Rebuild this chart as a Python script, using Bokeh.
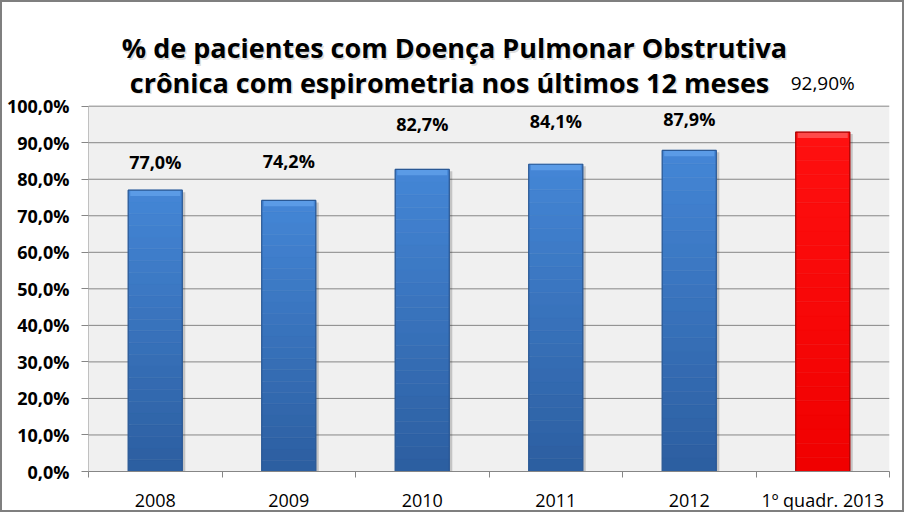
from bokeh.plotting import figure
from bokeh.models import Range1d, FixedTicker, Label, ColumnDataSource
from bokeh.embed import file_html
from bokeh.resources import INLINE

# ---------------- data ----------------
categories = ["2008", "2009", "2010", "2011", "2012", "1º quadr. 2013"]
values = [77.0, 74.2, 82.7, 84.1, 87.9, 92.9]
value_labels = ["77,0%", "74,2%", "82,7%", "84,1%", "87,9%", "92,90%"]
y_ticks = [0, 10, 20, 30, 40, 50, 60, 70, 80, 90, 100]
y_tick_labels = ["0,0%", "10,0%", "20,0%", "30,0%", "40,0%", "50,0%",
                 "60,0%", "70,0%", "80,0%", "90,0%", "100,0%"]
title_lines = ["% de pacientes com Doença Pulmonar Obstrutiva",
               "crônica com espirometria nos últimos 12 meses"]

# ---------------- style ----------------
W, H = 904, 512
B_LEFT, B_RIGHT, B_BOTTOM = 86, 17, 37
PLOT_TOP_PX = 105                     # canvas y of the 100% line
FRAME_W = W - B_LEFT - B_RIGHT
FRAME_H = H - B_BOTTOM
PLOT_H = FRAME_H - PLOT_TOP_PX
BAR_W = 0.405
FONT = "Open Sans"
GRID = "#868686"
label_lift_px = [28, 39, 45, 43, 31, 49]
label_bold = [True, True, True, True, True, False]
label_size = ["18px"] * 5 + ["19px"]
title_px = [(452, 46), (447, 81)]     # canvas centre x / baseline y
blue_top, blue_bottom, blue_edge = (68, 134, 214), (44, 94, 160), "#2a5894"
red_top, red_bottom, red_edge = (255, 16, 16), (240, 0, 0), "#a80000"
bar_palette = ["blue"] * 5 + ["red"]

n_cat = len(categories)
centers = [i + 0.5 for i in range(n_cat)]
px_y = 100.0 / PLOT_H          # data units per pixel (y)
px_x = n_cat / FRAME_W         # data units per pixel (x)
y_max = FRAME_H * px_y


def mix(c1, c2, t):
    return "#%02x%02x%02x" % tuple(int(round(a + (b - a) * t)) for a, b in zip(c1, c2))


p = figure(width=W, height=H, x_range=Range1d(0, n_cat), y_range=Range1d(0, y_max),
           output_backend="svg", toolbar_location=None,
           min_border_left=B_LEFT, min_border_right=B_RIGHT,
           min_border_top=0, min_border_bottom=B_BOTTOM)
p.styles = {"border": "2px solid #7f7f7f"}
p.background_fill_color = "white"
p.border_fill_color = "white"
p.outline_line_color = None
p.xgrid.visible = False
p.ygrid.visible = False

# plot area background and grid lines
p.quad(left=0, right=n_cat, bottom=0, top=100, fill_color="#f0f0f0", line_color=None)
p.segment(x0=[0] * len(y_ticks), x1=[n_cat] * len(y_ticks), y0=y_ticks, y1=y_ticks,
          line_color=GRID, line_width=1)
p.segment(x0=[0], x1=[0], y0=[0], y1=[100], line_color=GRID, line_width=1)

# shadows
sh = ColumnDataSource(dict(x=[c + 3 * px_x for c in centers],
                           top=[v - 2 * px_y for v in values]))
p.vbar(x="x", top="top", bottom=0, width=BAR_W, source=sh,
       fill_color="black", fill_alpha=0.18, line_color=None)

# gradient bars
N = 24
seg = dict(x=[], top=[], bottom=[], color=[])
for c, v, kind in zip(centers, values, bar_palette):
    ct, cb = (blue_top, blue_bottom) if kind == "blue" else (red_top, red_bottom)
    for k in range(N):
        seg["x"].append(c)
        seg["bottom"].append(v * k / N)
        seg["top"].append(v * (k + 1) / N)
        seg["color"].append(mix(cb, ct, (k + 0.5) / N))
p.vbar(x="x", top="top", bottom="bottom", width=BAR_W, source=ColumnDataSource(seg),
       fill_color="color", line_color="color", line_width=0.5)

# bevel top strip
bev = ColumnDataSource(dict(x=centers, top=values, bottom=[v - 6 * px_y for v in values],
                            color=["#5b9be6" if k == "blue" else "#ff4a4a" for k in bar_palette]))
p.vbar(x="x", top="top", bottom="bottom", width=BAR_W - 4 * px_x, source=bev,
       fill_color="color", line_color=None)

# outlines
ol = ColumnDataSource(dict(x=centers, top=values,
                           edge=[blue_edge if k == "blue" else red_edge for k in bar_palette]))
p.vbar(x="x", top="top", bottom=0, width=BAR_W, source=ol,
       fill_color=None, line_color="edge", line_width=1.2)

# data labels
for c, v, t, lift, bold, fs in zip(centers, values, value_labels, label_lift_px,
                                   label_bold, label_size):
    p.add_layout(Label(x=c, y=v, y_offset=lift, text=t, text_align="center",
                       text_baseline="middle", text_font=FONT, text_font_size=fs,
                       text_font_style="bold" if bold else "normal", text_color="black"))

# title with soft shadow
for (cx, cy), line in zip(title_px, title_lines):
    tx = (cx - B_LEFT) * px_x
    ty = (FRAME_H - cy) * px_y
    p.add_layout(Label(x=tx, y=ty, x_offset=1.5, y_offset=-1.5,
                       text=line, text_align="center", text_baseline="alphabetic",
                       text_font=FONT, text_font_size="27px", text_font_style="bold",
                       text_color="#b4b4b4", text_alpha=0.45))
    p.add_layout(Label(x=tx, y=ty,
                       text=line, text_align="center", text_baseline="alphabetic",
                       text_font=FONT, text_font_size="27px", text_font_style="bold",
                       text_color="black"))

# axes
p.yaxis.ticker = FixedTicker(ticks=y_ticks)
p.yaxis.major_label_overrides = dict(zip(y_ticks, y_tick_labels))
p.yaxis.major_tick_out = 7
p.yaxis.major_tick_in = 0
p.yaxis.minor_tick_line_color = None
p.yaxis.major_label_standoff = 12
p.yaxis.axis_line_color = None
p.yaxis.major_tick_line_color = GRID
p.yaxis.major_label_text_font = FONT
p.yaxis.major_label_text_font_size = "18px"
p.yaxis.major_label_text_font_style = "bold"
p.yaxis.major_label_text_color = "black"

p.xaxis.ticker = FixedTicker(ticks=centers, minor_ticks=list(range(n_cat + 1)))
p.xaxis.major_label_overrides = dict(zip(centers, categories))
p.xaxis.major_tick_out = 0
p.xaxis.major_tick_in = 0
p.xaxis.minor_tick_out = 6
p.xaxis.minor_tick_in = 0
p.xaxis.minor_tick_line_color = GRID
p.xaxis.major_label_standoff = 10
p.xaxis.axis_line_color = GRID
p.xaxis.major_label_text_font = FONT
p.xaxis.major_label_text_font_size = "18px"
p.xaxis.major_label_text_color = "black"

open("out.html", "w").write(file_html(p, INLINE))
